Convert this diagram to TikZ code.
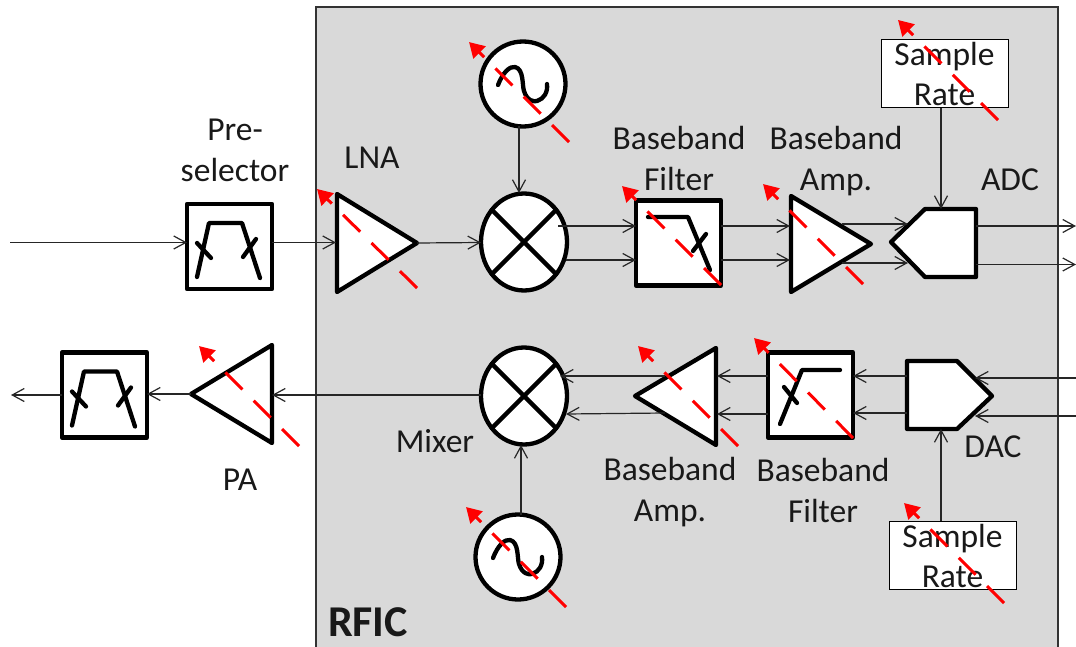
\documentclass[tikz,border=0pt]{standalone}
\usepackage{fontspec}
\setmainfont{Carlito}
\usetikzlibrary{arrows.meta,shapes.geometric}
\definecolor{chipgray}{HTML}{D9D9D9}
\definecolor{wiregray}{HTML}{262626}
\tikzset{
  x=1pt,y=-1pt,
  thick line/.style={line width=4.3pt,line join=round,line cap=round,draw=black},
  blockbox/.style={thick line,fill=white,rectangle,inner sep=0pt,outer sep=0pt,minimum width=85pt,minimum height=85pt},
  mixerblock/.style={thick line,fill=white,ellipse,inner sep=0pt,outer sep=0pt,minimum width=86pt,minimum height=97pt},
  oscblock/.style={thick line,fill=white,circle,inner sep=0pt,outer sep=0pt,minimum size=85pt},
  solidshape/.style={thick line,fill=white},
  inner curve/.style={thick line},
  conn/.style={line width=1.2pt,draw=wiregray,-{Straight Barb[length=12pt,width=13pt,line width=1.2pt]}},
  tune/.style={line width=3pt,draw=red,dash pattern=on 24pt off 16pt,-{Triangle[length=15pt,width=17pt,fill=red]}},
  label/.style={font=\fontsize{33.5}{41}\selectfont,align=center,text=black!90,inner sep=0pt},
  ratebox/.style={draw=black,line width=1pt,fill=white,rectangle,inner sep=0pt,minimum width=127pt,minimum height=68pt,font=\fontsize{33.5}{40}\selectfont,align=center,text=black!90},
  bandpass/.pic={
    \draw[inner curve] (-32.5,30.5) -- (-20.5,-23.5) -- (12.5,-23.5) -- (30.5,31.5);
    \draw[inner curve] (-32.5,-3.5) -- (-18.5,11.5);
    \draw[inner curve] (26.5,-7.5) -- (13.5,10.5);
  },
  sinewave/.pic={
    \draw[inner curve] (-25,1) .. controls (-20,-12) and (-13,-18) .. (-8,-17) .. controls (1,-15) and (-1,1) .. (1,7) .. controls (4,17) and (11,18) .. (14,17) .. controls (21,15) and (25,8) .. (24,0);
  }
}
\begin{document}
\begin{tikzpicture}
\useasboundingbox (0,0) rectangle (1076,647);
\node[draw=black!80,line width=1.5pt,fill=chipgray,rectangle,inner sep=0pt,outer sep=0pt,minimum width=742pt,minimum height=644pt,anchor=north west] (chip) at (316,7) {};
\node[font=\fontsize{44}{46}\selectfont\bfseries,inner sep=0pt,text=black!90] (rfic) at (368,622) {RFIC};

% blocks
\node[blockbox] (presel) at (229.5,246.5) {};
\pic at (presel.center) {bandpass};
\node[blockbox] (outfilt) at (104.5,395) {};
\pic at (outfilt.center) {bandpass};
\node[blockbox] (bbfT) at (678.5,243) {};
\draw[inner curve] (648,217) -- (688,217) -- (710,270);
\draw[inner curve] (706,234) -- (693,251);
\node[blockbox] (bbfB) at (810.5,395) {};
\draw[inner curve] (780,424) -- (802,370) -- (840,370);
\draw[inner curve] (784,387) -- (797,403);
\node[mixerblock] (mixT) at (524,242) {};
\draw[inner curve] (mixT.45) -- (mixT.225) (mixT.135) -- (mixT.315);
\node[mixerblock] (mixB) at (524,396) {};
\draw[inner curve] (mixB.45) -- (mixB.225) (mixB.135) -- (mixB.315);
\node[oscblock] (oscT) at (523,84) {};
\pic at (oscT.center) {sinewave};
\node[oscblock] (oscB) at (518,557) {};
\pic at (oscB.center) {sinewave};

% triangle and converter outlines
\coordinate (lnaTip) at (417,243);
\draw[solidshape] (337,194) -- (lnaTip) -- (337,292) -- cycle;
\coordinate (ampTTip) at (871,244);
\draw[solidshape] (791,196) -- (ampTTip) -- (791,292) -- cycle;
\coordinate (ampBTip) at (635,396);
\draw[solidshape] (716,348) -- (ampBTip) -- (716,445) -- cycle;
\coordinate (paTip) at (191,394);
\draw[solidshape] (272,345) -- (paTip) -- (272,443) -- cycle;
\draw[solidshape] (891,242) -- (925,209) -- (976,209) -- (976,277) -- (925,277) -- cycle;
\draw[solidshape] (907,361) -- (957,361) -- (992,396) -- (957,429) -- (907,429) -- cycle;

% sample-rate boxes
\node[ratebox] (rateT) at (944.5,74) {Sample\\Rate};
\node[ratebox] (rateB) at (952.5,555.5) {Sample\\Rate};

% labels
\node[label] (lpre) at (235,150) {Pre-\\selector};
\node[label] (llna) at (372,158) {LNA};
\node[label] (lbfT) at (679,158.5) {Baseband\\Filter};
\node[label] (lbaT) at (836,161) {Baseband\\Amp.};
\node[label] (ladc) at (1010,180) {ADC};
\node[label] (lmix) at (435,441) {Mixer};
\node[label] (lpa) at (240,480) {PA};
\node[label] (lbaB) at (670,492.5) {Baseband\\Amp.};
\node[label] (lbfB) at (823,490.5) {Baseband\\Filter};
\node[label] (ldac) at (993,447) {DAC};

% ports
\coordinate (inL) at (10,242.5);
\coordinate (preW) at (187,242.5);
\coordinate (preE) at (272,242.5);
\coordinate (lnaW) at (336,242.5);
\coordinate (mixTW) at (481,242.5);
\coordinate (mixTn) at (519,126);
\coordinate (mixTt) at (519,193);
\coordinate (mT1) at (558,226);
\coordinate (mT2) at (566,260);
\coordinate (fT1w) at (636,226);
\coordinate (fT2w) at (636,260);
\coordinate (fT1e) at (721,226);
\coordinate (fT2e) at (721,260);
\coordinate (aT1w) at (790,226);
\coordinate (aT2w) at (790,260);
\coordinate (aT1e) at (842,224);
\coordinate (aT2e) at (842,263);
\coordinate (adc1w) at (908,224);
\coordinate (adc2w) at (908,263);
\coordinate (adc1e) at (976,226);
\coordinate (adc2e) at (976,264.5);
\coordinate (out1) at (1076,226);
\coordinate (out2) at (1076,264.5);
\coordinate (adcTop) at (941,209);
\coordinate (rateTs) at (941,108);
\coordinate (dacIn1) at (1076,378);
\coordinate (dacIn2) at (1076,416);
\coordinate (dacTip1) at (975,378);
\coordinate (dacTip2) at (975,416);
\coordinate (dacW1) at (907,376);
\coordinate (dacW2) at (907,413);
\coordinate (fB1e) at (853,376);
\coordinate (fB2e) at (853,413);
\coordinate (fB1w) at (768,376);
\coordinate (fB2w) at (768,414);
\coordinate (aB1e) at (717,376);
\coordinate (aB2e) at (717,414);
\coordinate (aB1w) at (665,376);
\coordinate (aB2w) at (665,413);
\coordinate (mB1) at (560,376);
\coordinate (mB2) at (566,414);
\coordinate (mixBW) at (481,395);
\coordinate (paE) at (272,395);
\coordinate (outE) at (147,394);
\coordinate (outW) at (62,395);
\coordinate (outL) at (11,395);
\coordinate (dacBot) at (941,429);
\coordinate (rateBn) at (941,521);
\coordinate (mixBs) at (521,445);
\coordinate (oscBn) at (521,515);

% connectors
\draw[conn] (inL) -- (preW);
\draw[conn] (preE) -- (lnaW);
\draw[conn] (lnaTip) -- (mixTW);
\draw[conn] (mixTn) -- (mixTt);
\draw[conn] (mT1) -- (fT1w);
\draw[conn] (mT2) -- (fT2w);
\draw[conn] (fT1e) -- (aT1w);
\draw[conn] (fT2e) -- (aT2w);
\draw[conn] (aT1e) -- (adc1w);
\draw[conn] (aT2e) -- (adc2w);
\draw[conn] (adc1e) -- (out1);
\draw[conn] (adc2e) -- (out2);
\draw[conn] (rateTs) -- (adcTop);
\draw[conn] (dacIn1) -- (dacTip1);
\draw[conn] (dacIn2) -- (dacTip2);
\draw[conn] (dacW1) -- (fB1e);
\draw[conn] (dacW2) -- (fB2e);
\draw[conn] (fB1w) -- (aB1e);
\draw[conn] (fB2w) -- (aB2e);
\draw[conn] (aB1w) -- (mB1);
\draw[conn] (aB2w) -- (mB2);
\draw[conn] (mixBW) -- (paE);
\draw[conn] (paTip) -- (outE);
\draw[conn] (outW) -- (outL);
\draw[conn] (rateBn) -- (dacBot);
\draw[conn] (oscBn) -- (mixBs);

% tuning arrows
\draw[tune] (417,288) -- (317,189);
\draw[tune] (569,142) -- (469,42);
\draw[tune] (721,285) -- (622,186);
\draw[tune] (863,284) -- (763,184);
\draw[tune] (998,120) -- (898,20);
\draw[tune] (738,446) -- (638,346);
\draw[tune] (853,438) -- (754,338);
\draw[tune] (299,446) -- (199,346);
\draw[tune] (566,607) -- (466,507);
\draw[tune] (1004,603) -- (904,503);
\end{tikzpicture}
\end{document}
